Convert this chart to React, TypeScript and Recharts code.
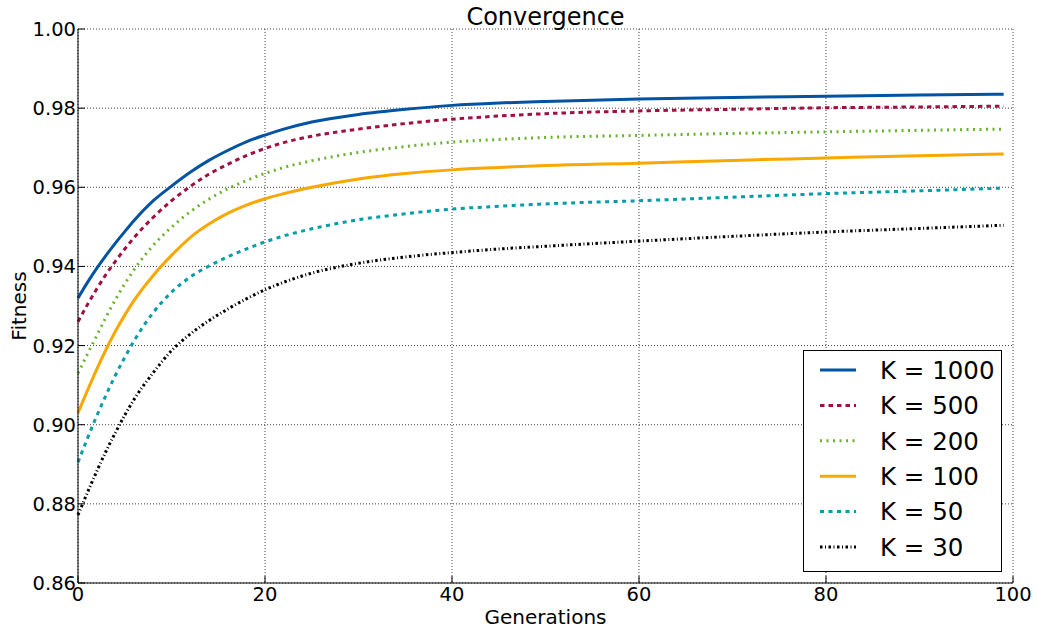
import React from "react";
import { LineChart, Line, XAxis, YAxis, CartesianGrid } from "recharts";

const generations = [0, 1, 2, 3, 4, 5, 6, 8, 10, 12, 14, 16, 18, 20, 22, 25, 30, 35, 40, 45, 50, 60, 70, 80, 90, 99];
const k1000 = [0.932, 0.9359, 0.9395, 0.9428, 0.9459, 0.9488, 0.9516, 0.9565, 0.9603, 0.9638, 0.9668, 0.9693, 0.9715, 0.9732, 0.9747, 0.9765, 0.9784, 0.9797, 0.9807, 0.9813, 0.9817, 0.9823, 0.9827, 0.983, 0.9833, 0.9835];
const k500 = [0.926, 0.9303, 0.9343, 0.938, 0.9413, 0.9444, 0.9473, 0.9523, 0.9566, 0.9602, 0.9633, 0.9658, 0.968, 0.9698, 0.9713, 0.9729, 0.9747, 0.9761, 0.9772, 0.978, 0.9786, 0.9793, 0.9797, 0.9801, 0.9803, 0.9805];
const k200 = [0.913, 0.9178, 0.9225, 0.9272, 0.9316, 0.9356, 0.9392, 0.9452, 0.9499, 0.9538, 0.957, 0.9596, 0.9617, 0.9635, 0.965, 0.9667, 0.9688, 0.9703, 0.9714, 0.9721, 0.9726, 0.9731, 0.9736, 0.974, 0.9744, 0.9747];
const k100 = [0.903, 0.9086, 0.914, 0.919, 0.9236, 0.9277, 0.9314, 0.9376, 0.9428, 0.9473, 0.9507, 0.9534, 0.9555, 0.9571, 0.9584, 0.96, 0.9621, 0.9635, 0.9644, 0.965, 0.9655, 0.9661, 0.9668, 0.9674, 0.968, 0.9684];
const k50 = [0.8905, 0.8965, 0.9022, 0.9075, 0.9125, 0.917, 0.9212, 0.9282, 0.9335, 0.9373, 0.9401, 0.9424, 0.9444, 0.9462, 0.9477, 0.9495, 0.9518, 0.9533, 0.9545, 0.9552, 0.9558, 0.9566, 0.9575, 0.9584, 0.9591, 0.9598];
const k30 = [0.8772, 0.8828, 0.8882, 0.8933, 0.898, 0.9024, 0.9064, 0.913, 0.9187, 0.9229, 0.9263, 0.9292, 0.9318, 0.9341, 0.936, 0.9383, 0.9408, 0.9424, 0.9435, 0.9444, 0.9451, 0.9464, 0.9476, 0.9487, 0.9496, 0.9504];

const xTicks = [0, 20, 40, 60, 80, 100];
const yTicks = [0.86, 0.88, 0.9, 0.92, 0.94, 0.96, 0.98, 1.0];

const series = [
  { key: "k1000", name: "K = 1000", values: k1000, color: "#0253a1", dash: undefined },
  { key: "k500", name: "K = 500", values: k500, color: "#a1113f", dash: "4.5 4" },
  { key: "k200", name: "K = 200", values: k200, color: "#6ab42d", dash: "2 4.5" },
  { key: "k100", name: "K = 100", values: k100, color: "#f8a800", dash: undefined },
  { key: "k50", name: "K = 50", values: k50, color: "#009ea6", dash: "4 4.5" },
  { key: "k30", name: "K = 30", values: k30, color: "#000000", dash: "2.5 2.5 1 2.5" },
];

const data = generations.map((g, i) => {
  const row: any = { g };
  series.forEach((s) => (row[s.key] = s.values[i]));
  return row;
});

const FONT = "'DejaVu Sans', sans-serif";
const TICK_FS = 19.5;

const LeftTick = (p: any) => (
  <g>
    <line x1={p.x} x2={p.x + 7} y1={p.y} y2={p.y} stroke="#000" strokeWidth={1} />
    <text x={p.x - 2} y={p.y} dy="0.36em" textAnchor="end" fontSize={TICK_FS} fontFamily={FONT} fill="#000">
      {Number(p.payload.value).toFixed(2)}
    </text>
  </g>
);
const RightTick = (p: any) => (
  <line x1={p.x} x2={p.x - 7} y1={p.y} y2={p.y} stroke="#000" strokeWidth={1} />
);
const BottomTick = (p: any) => (
  <g>
    <line x1={p.x} x2={p.x} y1={p.y} y2={p.y - 7} stroke="#000" strokeWidth={1} />
    <text x={p.x} y={p.y + 18} textAnchor="middle" fontSize={TICK_FS} fontFamily={FONT} fill="#000">
      {p.payload.value}
    </text>
  </g>
);
const TopTick = (p: any) => (
  <line x1={p.x} x2={p.x} y1={p.y} y2={p.y + 7} stroke="#000" strokeWidth={1} />
);

export default function App() {
  return (
    <div style={{ position: "absolute", left: 0, top: 0, width: 1037, height: 628, background: "#fff", fontFamily: FONT }}>
      <LineChart width={1037} height={628} data={data} margin={{ top: 29, right: 24, left: 0, bottom: 0 }}>
        <CartesianGrid stroke="#444" strokeDasharray="1 2" strokeWidth={1} />
        <XAxis
          dataKey="g"
          type="number"
          domain={[0, 100]}
          ticks={xTicks}
          height={45}
          tickSize={0}
          tickMargin={0}
          tick={<BottomTick />}
          axisLine={{ stroke: "#000" }}
          interval={0}
        />
        <XAxis
          xAxisId="top"
          orientation="top"
          type="number"
          domain={[0, 100]}
          ticks={xTicks}
          height={0}
          tickSize={0}
          tickMargin={0}
          tick={<TopTick />}
          axisLine={{ stroke: "#000" }}
          interval={0}
        />
        <YAxis
          type="number"
          domain={[0.86, 1.0]}
          ticks={yTicks}
          width={78}
          tickSize={0}
          tickMargin={0}
          tick={<LeftTick />}
          axisLine={{ stroke: "#000" }}
          interval={0}
          allowDataOverflow
        />
        <YAxis
          yAxisId="right"
          orientation="right"
          type="number"
          domain={[0.86, 1.0]}
          ticks={yTicks}
          width={0}
          tickSize={0}
          tickMargin={0}
          tick={<RightTick />}
          axisLine={{ stroke: "#000" }}
          interval={0}
          allowDataOverflow
        />
        {series.map((s) => (
          <Line
            key={s.key}
            dataKey={s.key}
            name={s.name}
            type="monotone"
            stroke={s.color}
            strokeWidth={3}
            strokeDasharray={s.dash}
            dot={false}
            isAnimationActive={false}
          />
        ))}
      </LineChart>
      <div style={{ position: "absolute", left: 0, top: 3, width: 1091, textAlign: "center", fontSize: 24, lineHeight: "28px", color: "#000" }}>
        Convergence
      </div>
      <div style={{ position: "absolute", left: 78, top: 604, width: 935, textAlign: "center", fontSize: 20, lineHeight: "26px", color: "#000" }}>
        Generations
      </div>
      <div
        style={{
          position: "absolute",
          left: 19,
          top: 306,
          transform: "translate(-50%, -50%) rotate(-90deg)",
          fontSize: 20,
          lineHeight: "24px",
          color: "#000",
          whiteSpace: "nowrap",
        }}
      >
        Fitness
      </div>
      <svg style={{ position: "absolute", left: 803, top: 350 }} width={200} height={223}>
        <rect x={0.5} y={0.5} width={198} height={221} fill="#fff" stroke="#000" strokeWidth={1} />
        {series.map((s, i) => {
          const cy = 20 + i * 35.4;
          return (
            <g key={s.key}>
              <line x1={17} x2={53} y1={cy} y2={cy} stroke={s.color} strokeWidth={3} strokeDasharray={s.dash} />
              <text x={77} y={cy} dy="0.36em" fontSize={24.5} fontFamily={FONT} fill="#000">
                {s.name}
              </text>
            </g>
          );
        })}
      </svg>
    </div>
  );
}
